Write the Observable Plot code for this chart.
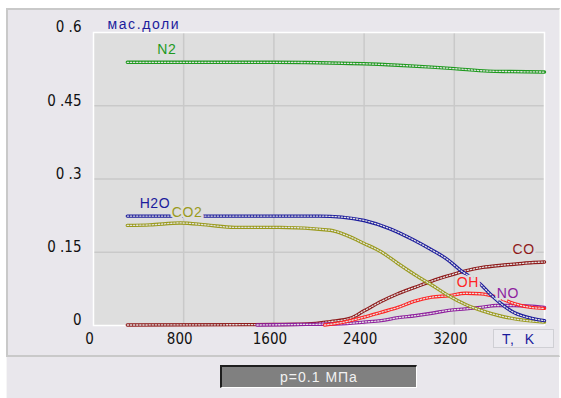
<!DOCTYPE html>
<html>
<head>
<meta charset="utf-8">
<script src="https://cdn.jsdelivr.net/npm/d3@7"></script>
<script src="https://cdn.jsdelivr.net/npm/@observablehq/plot@0.6"></script>
<style>
  html, body { margin: 0; padding: 0; background: #ffffff; }
  #root { position: relative; width: 561px; height: 398px; overflow: hidden; background: #ffffff; }
  #panel { position: absolute; left: 6px; top: 8px; width: 551px; height: 345px;
           background: #e9e7ec; border-top: 2px solid #c9c9c9; border-left: 2px solid #c9c9c9;
           border-bottom: 2px solid #c9c9c9; border-right: 1px solid #f4f4f4; box-sizing: content-box; }
  #lower { position: absolute; left: 6px; top: 357px; width: 552px; height: 41px; background: #e9e7ec;
           border-left: 1px solid #f6f6f6; }
  #chart { position: absolute; left: 6px; top: 8px; }
  #tk { position: absolute; left: 493px; top: 329px; width: 61px; height: 19px; border: 1px solid #cfcfd4;
        background: #ecebf0; color: #1a1a9c; font: 14px "Liberation Sans", Arial, sans-serif;
        line-height: 19px; padding-left: 8px; box-sizing: border-box; letter-spacing: 1px; }
  #cap { position: absolute; left: 220px; top: 365px; width: 197px; height: 23px; background: #808080;
         border-top: 2px solid #1e1e1e; border-left: 2px solid #1e1e1e; border-bottom: 1px solid #ffffff;
         border-right: 1px solid #ffffff; box-sizing: border-box; color: #f2f2f2;
         font: 14px "Liberation Sans", Arial, sans-serif; line-height: 20px; text-align: center; letter-spacing: 1px; }
</style>
</head>
<body>
<div id="root">
  <div id="panel"></div>
  <div id="lower"></div>
  <div id="chart"></div>
  <div id="tk">T,&nbsp; K</div>
  <div id="cap">p=0.1 МПа</div>
</div>
<script>
// ---- data ----
const n2T   = [300, 1000, 1600, 2000, 2200, 2400, 2700, 3000, 3200, 3500, 3700, 4000];
const n2V   = [0.539, 0.539, 0.539, 0.538, 0.537, 0.536, 0.533, 0.529, 0.526, 0.521, 0.520, 0.519];

const h2oT  = [300, 800, 1600, 2000, 2200, 2400, 2630, 2840, 2990, 3140, 3255, 3430, 3520, 3725, 3900, 4000];
const h2oV  = [0.224, 0.224, 0.224, 0.224, 0.222, 0.215, 0.198, 0.175, 0.156, 0.135, 0.113, 0.085, 0.064, 0.027, 0.014, 0.010];

const co2T  = [300, 500, 770, 1000, 1250, 1650, 2100, 2250, 2400, 2550, 2700, 2850, 3000, 3150, 3300, 3450, 3600, 3750, 4000];
const co2V  = [0.205, 0.206, 0.210, 0.206, 0.201, 0.201, 0.195, 0.184, 0.168, 0.151, 0.127, 0.104, 0.083, 0.061, 0.043, 0.030, 0.020, 0.013, 0.007];

const coT   = [300, 1600, 1900, 2100, 2280, 2400, 2550, 2700, 2850, 3000, 3150, 3300, 3450, 3600, 3750, 3900, 4000];
const coV   = [0.001, 0.002, 0.003, 0.008, 0.015, 0.030, 0.049, 0.065, 0.078, 0.091, 0.102, 0.112, 0.119, 0.123, 0.126, 0.129, 0.130];

const ohT   = [2050, 2200, 2400, 2550, 2700, 2850, 3000, 3150, 3300, 3430, 3580, 3730, 3880, 4000];
const ohV   = [0.001, 0.006, 0.017, 0.027, 0.037, 0.050, 0.058, 0.061, 0.066, 0.065, 0.058, 0.045, 0.037, 0.035];

const noT   = [1450, 1800, 2100, 2250, 2400, 2550, 2700, 2850, 3000, 3150, 3300, 3430, 3580, 3730, 4000];
const noV   = [0.001, 0.002, 0.003, 0.004, 0.007, 0.010, 0.016, 0.020, 0.025, 0.031, 0.034, 0.037, 0.041, 0.041, 0.037];

const seriesNames  = ["N2", "CO", "NO", "OH", "CO2", "H2O"];
const seriesColors = ["#1f9a1f", "#8e1a1a", "#8e1f9e", "#ff2424", "#9a9a1c", "#1c1c9c"];

// labels: name, anchor T, anchor value
const labelNames = ["N2", "H2O", "CO2", "CO", "OH", "NO"];
const labelT     = [650, 545, 830, 3815, 3320, 3675];
const labelV     = [0.566, 0.250, 0.232, 0.156, 0.088, 0.066];
const labelColors = ["#1f9a1f", "#1c1c9c", "#9a9a1c", "#8e1a1a", "#ff2424", "#8e1f9e"];

const xTicks = [0, 800, 1600, 2400, 3200];
const xTickLabels = ["0", "800", "1600", "2400", "3200"];
const yTicks = [0, 0.15, 0.3, 0.45, 0.6];
const yTickLabels = ["0", "0 .15", "0 .3", "0 .45", "0 .6"];
const yUnit = "мас.доли";

// ---- build table ----
const tables = {
  "N2": [n2T, n2V], "CO": [coT, coV], "NO": [noT, noV],
  "OH": [ohT, ohV], "CO2": [co2T, co2V], "H2O": [h2oT, h2oV]
};
const rows = [];
seriesNames.forEach((s) => {
  const [T, V] = tables[s];
  T.forEach((t, i) => rows.push({s, t, v: V[i]}));
});
const labels = labelNames.map((n, i) => ({n, t: labelT[i], v: labelV[i], c: labelColors[i]}));

const bg = "#dedede";
const tickFont = "'Liberation Sans Narrow', 'DejaVu Sans Condensed', 'Liberation Sans', sans-serif";

const marks = [
  Plot.frame({fill: bg, stroke: "none"}),
  Plot.gridX(xTicks.slice(1), {stroke: "#c9c9c9", strokeOpacity: 1, strokeWidth: 1.5}),
  Plot.gridY(yTicks.slice(1, -1), {stroke: "#c9c9c9", strokeOpacity: 1, strokeWidth: 1.5}),
  Plot.frame({stroke: "#ffffff", strokeWidth: 1.5, fill: "none"}),
  Plot.axisX(xTicks, {tickSize: 0, tickPadding: 8, dx: -4, tickFormat: (d, i) => xTickLabels[i],
    fontSize: 15, fontFamily: tickFont, fill: "#111"}),
  Plot.axisY(yTicks, {tickSize: 0, tickPadding: 12, dy: -5, tickFormat: (d, i) => yTickLabels[i],
    fontSize: 15, fontFamily: tickFont, fill: "#111", label: null}),
];
seriesNames.forEach((s, k) => {
  const data = rows.filter(r => r.s === s);
  marks.push(Plot.line(data, {x: "t", y: "v", stroke: seriesColors[k], strokeWidth: 3.4, curve: "monotone-x"}));
  marks.push(Plot.line(data, {x: "t", y: "v", stroke: "#e2e2e2", strokeWidth: 1.3, strokeDasharray: "1.3 1.8", curve: "monotone-x"}));
});
marks.push(Plot.text(labels, {x: "t", y: "v", text: "n", fill: d => d.c, fontSize: 14,
  fontFamily: "'Liberation Sans', Arial, sans-serif", stroke: bg, strokeWidth: 5}));
marks.push(Plot.text([yUnit], {frameAnchor: "top-left", dx: 14, dy: -13, text: d => d, fill: "#1c1c9c",
  fontSize: 14, fontFamily: "'Liberation Sans', Arial, sans-serif", textAnchor: "start"}));

const chart = Plot.plot({
  width: 552,
  height: 347,
  marginLeft: 87,
  marginRight: 14,
  marginTop: 24,
  marginBottom: 30,
  x: {domain: [0, 4000], label: null},
  y: {domain: [0, 0.6], label: null},
  color: {type: "identity"},
  style: {background: "transparent", overflow: "visible"},
  marks
});
d3.select(chart).selectAll("text").filter(function() { return this.textContent === yUnit; })
  .style("letter-spacing", "1.6px");
d3.select(chart).selectAll("text").filter(function() { return labelNames.includes(this.textContent); })
  .style("letter-spacing", "0.6px");
document.getElementById("chart").appendChild(chart);
</script>
</body>
</html>
